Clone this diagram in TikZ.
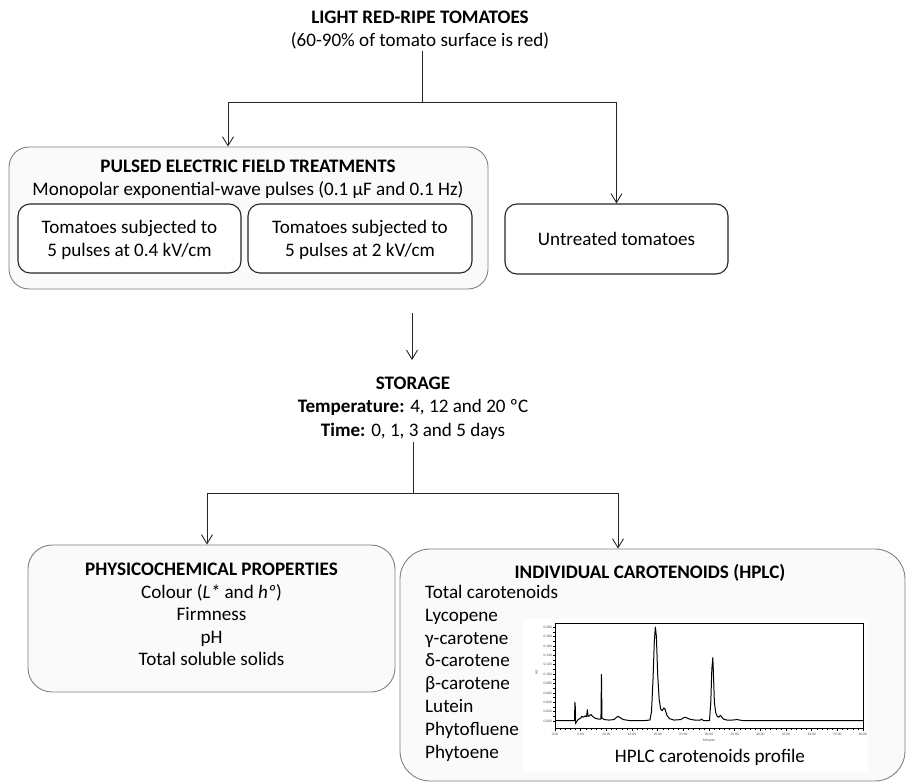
\documentclass[tikz,border=0pt]{standalone}
\usepackage{fontspec}
\setmainfont{Carlito}
\usetikzlibrary{arrows.meta}
\begin{document}
\begin{tikzpicture}[x=1pt,y=-1pt,
  every node/.style={font=\fontsize{19.1}{22.5}\selectfont, inner sep=2pt},
  txt/.style={align=center},
  outerbox/.style={draw=black!50, fill=black!2, rounded corners=20pt, line width=0.9pt},
  innerbox/.style={draw=black!85, fill=white, rounded corners=12pt, line width=1.1pt},
  conn/.style={line width=0.9pt, draw=black!85},
  arr/.style={conn, -{Straight Barb[length=9pt,width=11pt]}},
  tiny/.style={font=\fontsize{3.6}{4}\selectfont, inner sep=0.5pt, text=black!70},
]
\useasboundingbox (0,0) rectangle (908,784);

% --- top title
\node[txt] (title) at (420,30) {\textbf{LIGHT RED-RIPE TOMATOES}\\(60-90\% of tomato surface is red)};

% --- PEF box
\node[outerbox, minimum width=479pt, minimum height=142pt] (pef) at (248.5,218) {};
\node[txt] (peft) at (248,179.5) {\textbf{PULSED ELECTRIC FIELD TREATMENTS}\\Monopolar exponential-wave pulses (0.1 µF and 0.1 Hz)};
\node[innerbox, minimum width=223pt, minimum height=69pt] (b1) at (129.5,238.5) {};
\node[txt] (b1t) at (129.5,240) {Tomatoes subjected to\\5 pulses at 0.4 kV/cm};
\node[innerbox, minimum width=224pt, minimum height=69pt] (b2) at (360,238.5) {};
\node[txt] (b2t) at (360,240) {Tomatoes subjected to\\5 pulses at 2 kV/cm};

% --- untreated
\node[innerbox, minimum width=223pt, minimum height=70pt] (untr) at (616.5,239) {};
\node[txt] (untrt) at (616.5,239) {Untreated tomatoes};

% --- connectors top
\coordinate (s1) at (422,102);
\coordinate (s1l) at (228,102);
\coordinate (s1r) at (616.5,102);
\draw[conn] (title.south -| s1) -- (s1);
\draw[conn] (s1l) -- (s1r);
\draw[arr] (s1l) -- (s1l |- pef.north);
\draw[arr] (s1r) -- (untr.north);

% --- middle arrow
\coordinate (m1) at (412,313);
\coordinate (m2) at (412,360);
\draw[arr] (m1) -- (m2);

% --- storage
\node[txt, font=\fontsize{19.1}{23.5}\selectfont] (stor) at (413,408) {\textbf{STORAGE}\\\textbf{Temperature:} 4, 12 and 20 ºC\\\textbf{Time:} 0, 1, 3 and 5 days};

% --- lower boxes
\node[outerbox, rounded corners=24pt, minimum width=367pt, minimum height=147pt] (phys) at (211.5,618.5) {};
\node[txt, anchor=north] (physt) at (211.5,561) {\textbf{PHYSICOCHEMICAL PROPERTIES}\\Colour (\textit{L*} and \textit{hº})\\Firmness\\pH\\Total soluble solids};
\node[outerbox, rounded corners=30pt, minimum width=505pt, minimum height=232pt] (hplc) at (652.5,665) {};
\node[txt] (hplct) at (650,573) {\textbf{INDIVIDUAL CAROTENOIDS (HPLC)}};
\node[align=left, anchor=north west, font=\fontsize{19.1}{22.8}\selectfont] (list) at (423,583) {Total carotenoids\\Lycopene\\γ-carotene\\δ-carotene\\β-carotene\\Lutein\\Phytofluene\\Phytoene};

% --- connectors bottom
\coordinate (s2) at (413,493);
\coordinate (s2l) at (207,493);
\coordinate (s2r) at (618,493);
\draw[conn] (stor.south -| s2) -- (s2);
\draw[conn] (s2l) -- (s2r);
\draw[arr] (s2l) -- (s2l |- phys.north);
\draw[arr] (s2r) -- (s2r |- hplc.north);

% --- chromatogram
\fill[white] (523,619) rectangle (868,772);
\node (cap) at (710,757) {HPLC carotenoids profile};
\begin{scope}[shift={(555pt,-721pt)}, x=5.133pt, y=470pt]
  \draw[line width=0.8pt] (0,-0.0149) rectangle (60,0.2085);
  \foreach \t in {0,1,...,60} \draw[line width=0.4pt] (\t,-0.0149) -- (\t,-0.0185);
  \foreach \t in {0,5,...,60} \draw[line width=0.5pt] (\t,-0.0149) -- (\t,-0.021);
  \foreach \v in {0,0.01,...,0.2} \draw[line width=0.4pt] (0,\v) -- (-0.35,\v);
  \foreach \t/\l in {0/0.00,5/5.00,10/10.00,15/15.00,20/20.00,25/25.00,30/30.00,35/35.00,40/40.00,45/45.00,50/50.00,55/55.00,60/60.00}
    \node[tiny] (xl\t) at (\t,-0.028) {\l};
  \foreach \v/\l in {0/0.000,0.02/0.020,0.04/0.040,0.06/0.060,0.08/0.080,0.1/0.100,0.12/0.120,0.14/0.140,0.16/0.160,0.18/0.180,0.2/0.200}
    \node[tiny, anchor=east] at (-0.5,\v) {\l};
  \node[tiny] (xlab) at (30,-0.040) {Minutes};
  \node[tiny, rotate=90] (ylab) at (-3.6,0.104) {AU};
  \draw[line width=1pt, line join=round]
    (0,0.001) -- (3.8,0.001) -- (3.88,0.040) -- (3.95,0.030) -- (4.0,-0.006) -- (4.15,-0.002) -- (4.5,0.003)
    -- (5.0,0.006) -- (5.2,0.010) -- (5.5,0.008) -- (5.9,0.011) -- (6.15,0.009) -- (6.3,0.024) -- (6.45,0.010)
    -- (6.7,0.011) -- (7.0,0.014) -- (7.3,0.010) -- (7.8,0.006) -- (8.5,0.004) -- (8.95,0.004) -- (9.05,0.099)
    -- (9.15,0.006) -- (9.6,0.003) -- (10.5,0.002) -- (11.5,0.003) -- (12.0,0.008) -- (12.3,0.010) -- (12.7,0.007)
    -- (13.3,0.003) -- (14.5,0.001) -- (17.5,0.001) -- (18.5,0.002) -- (18.8,0.02) -- (19.1,0.09) -- (19.35,0.17)
    -- (19.55,0.200) -- (19.75,0.18) -- (20.0,0.10) -- (20.3,0.045) -- (20.6,0.025) -- (20.9,0.022) -- (21.2,0.028)
    -- (21.45,0.025) -- (21.8,0.012) -- (22.3,0.005) -- (23.2,0.002) -- (24.5,0.003) -- (25.2,0.008) -- (25.6,0.007)
    -- (26.2,0.004) -- (27.2,0.002) -- (28.3,0.002) -- (28.6,0.004) -- (28.9,0.001) -- (30.1,0.001) -- (30.35,0.04)
    -- (30.55,0.11) -- (30.75,0.135) -- (30.9,0.09) -- (31.05,0.04) -- (31.3,0.018) -- (31.6,0.010) -- (31.9,0.008)
    -- (32.2,0.012) -- (32.4,0.010) -- (32.8,0.004) -- (33.5,0.002) -- (34.5,0.002) -- (35.5,0.003) -- (36.5,0.001)
    -- (40,0.001) -- (60,0.001);
\end{scope}
\end{tikzpicture}
\end{document}
